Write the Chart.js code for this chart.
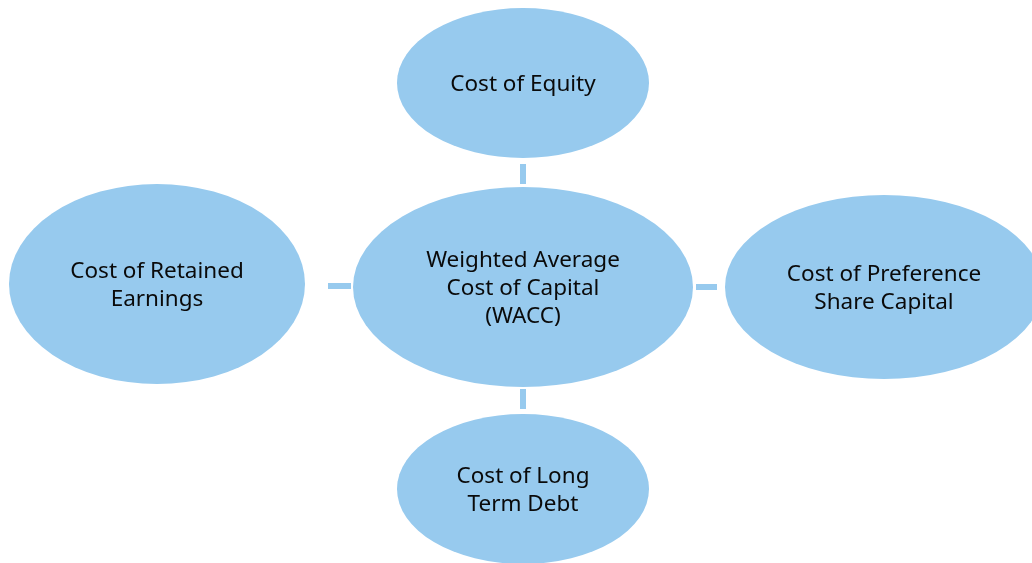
<!DOCTYPE html>
<html>
<head>
<meta charset="utf-8">
<script src="https://cdn.jsdelivr.net/npm/chart.js@4"></script>
<style>
    body { margin: 0; background: #fff; }
    #wrap { width: 1032px; height: 563px; }
</style>
</head>
<body>
<div id="wrap"><canvas id="waccChart" width="1032" height="563"></canvas></div>
<script>
// Nodes of the diagram (centre and half-axes, in chart units)
const nodeLabels = [
    ['Cost of Equity'],
    ['Cost of Retained', 'Earnings'],
    ['Weighted Average', 'Cost of Capital', '(WACC)'],
    ['Cost of Preference', 'Share Capital'],
    ['Cost of Long', 'Term Debt']
];
const nodeX = [523, 157, 523, 884, 523];
const nodeY = [83, 284, 287, 287, 489];
const nodeRx = [126, 148, 170, 159, 126];
const nodeRy = [75, 100, 100, 92, 75];

// Short connectors between the centre node and the others
const linkFrom = [[523, 164], [328, 286], [696, 287], [523, 389]];
const linkTo = [[523, 184], [351, 286], [717, 287], [523, 409]];

const fillColor = '#97CAEE';

// Draw ellipses + text for the nodes
const ellipsePlugin = {
    id: 'ellipses',
    beforeDatasetsDraw(chart) {
        const ctx = chart.ctx;
        const xs = chart.scales.x, ys = chart.scales.y;
        ctx.save();
        nodeX.forEach((x, i) => {
            const cx = xs.getPixelForValue(x);
            const cy = ys.getPixelForValue(nodeY[i]);
            const rx = Math.abs(xs.getPixelForValue(x + nodeRx[i]) - cx);
            const ry = Math.abs(ys.getPixelForValue(nodeY[i] + nodeRy[i]) - cy);
            ctx.beginPath();
            ctx.ellipse(cx, cy, rx, ry, 0, 0, Math.PI * 2);
            ctx.fillStyle = fillColor;
            ctx.fill();
        });
        ctx.restore();
    },
    afterDatasetsDraw(chart) {
        const ctx = chart.ctx;
        const xs = chart.scales.x, ys = chart.scales.y;
        ctx.save();
        ctx.fillStyle = '#0a0a0a';
        ctx.font = '22.5px "Noto Sans", sans-serif';
        ctx.textAlign = 'center';
        ctx.textBaseline = 'middle';
        const lineH = 28;
        nodeLabels.forEach((lines, i) => {
            const cx = xs.getPixelForValue(nodeX[i]);
            const cy = ys.getPixelForValue(nodeY[i]) + 2;
            const top = cy - (lines.length - 1) * lineH / 2;
            lines.forEach((t, j) => ctx.fillText(t, cx, top + j * lineH));
        });
        ctx.restore();
    }
};

const linkSets = linkFrom.map((p, i) => ({
    type: 'line',
    data: [{ x: p[0], y: p[1] }, { x: linkTo[i][0], y: linkTo[i][1] }],
    borderColor: fillColor,
    borderWidth: 6,
    pointRadius: 0,
    borderCapStyle: 'butt',
    fill: false
}));

const ctx = document.getElementById('waccChart').getContext('2d');
new Chart(ctx, {
    type: 'scatter',
    data: { datasets: linkSets },
    options: {
        responsive: false,
        animation: false,
        layout: { padding: 0 },
        plugins: { legend: { display: false }, tooltip: { enabled: false } },
        scales: {
            x: { type: 'linear', min: 0, max: 1032, display: false },
            y: { type: 'linear', min: 0, max: 563, reverse: true, display: false }
        }
    },
    plugins: [ellipsePlugin]
});
</script>
</body>
</html>
